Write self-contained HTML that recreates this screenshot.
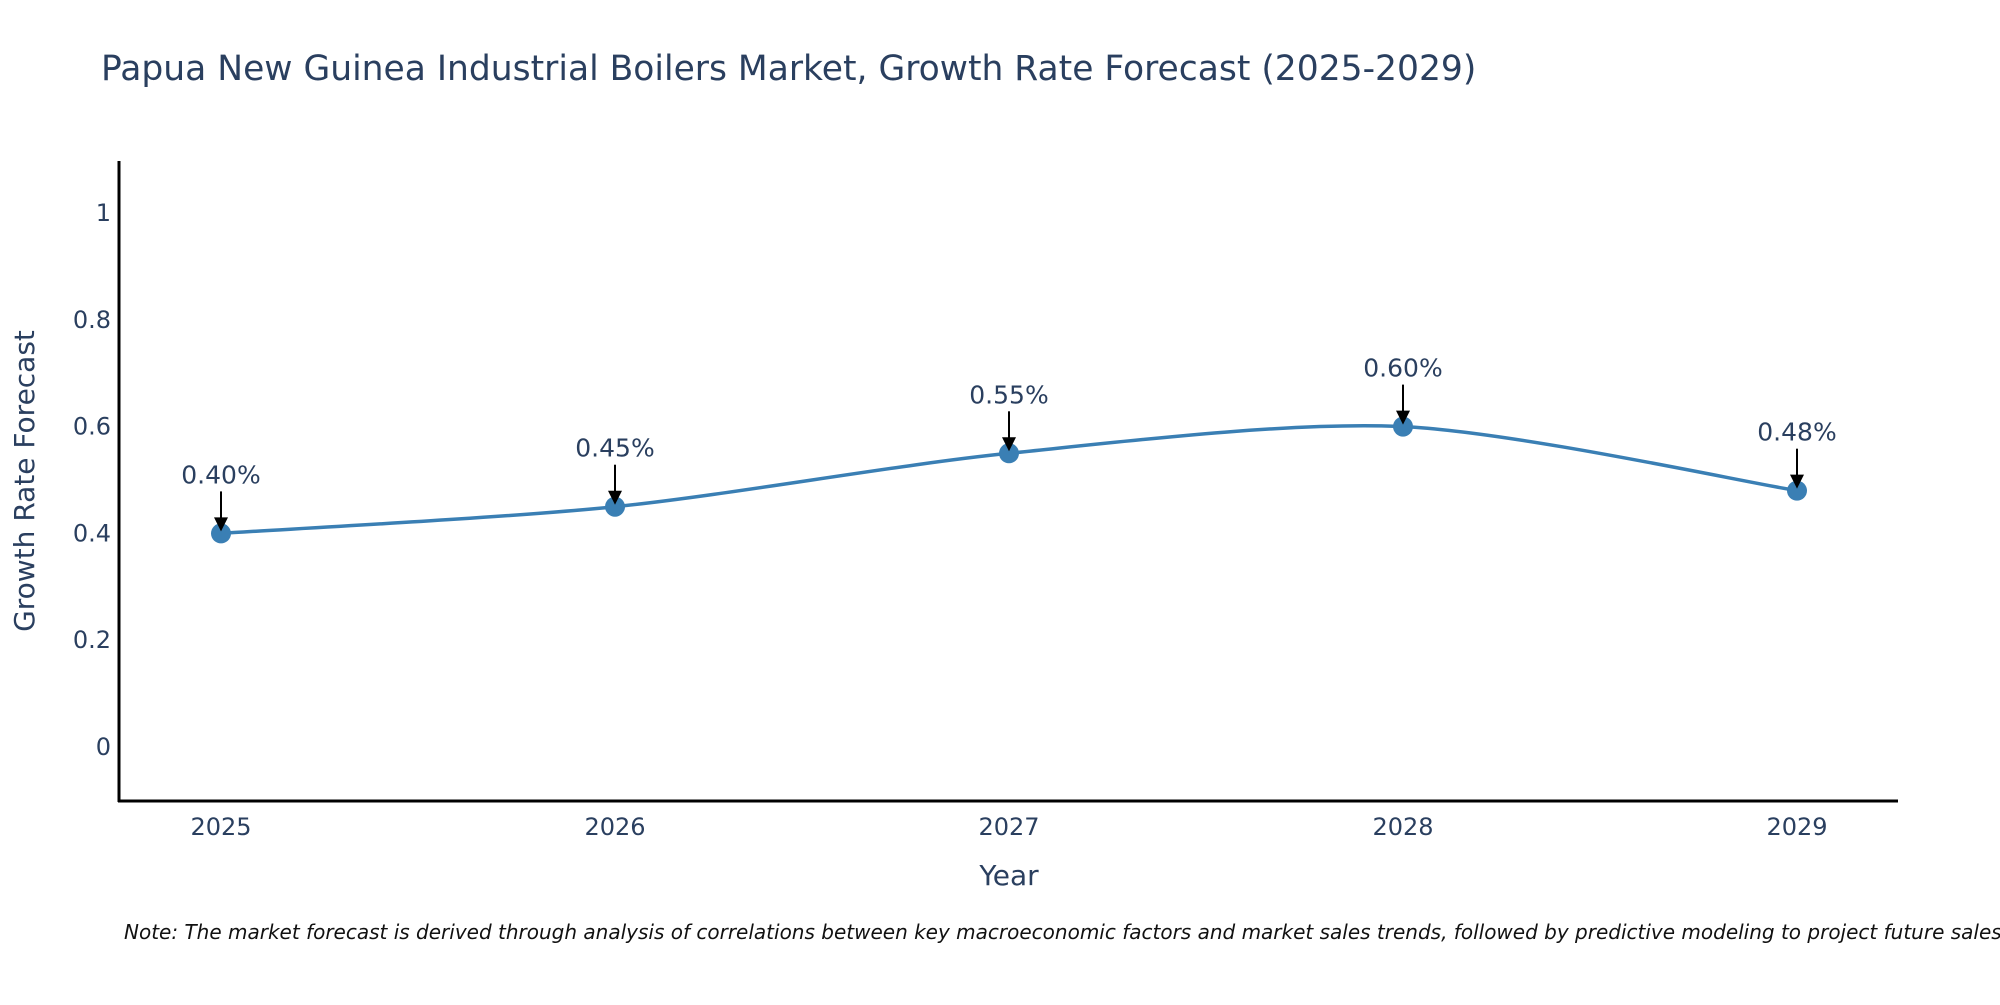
<!DOCTYPE html>
<html><head><meta charset="utf-8"><style>
body{margin:0;background:#fff}
svg text{font-family:"DejaVu Sans","Liberation Sans",sans-serif;fill:#2a3f5f}
</style></head><body>
<svg id="chart" width="2000" height="1000" xmlns="http://www.w3.org/2000/svg">
<text x="101" y="80" font-size="34.5">Papua New Guinea Industrial Boilers Market, Growth Rate Forecast (2025-2029)</text>
<g id="yticks"></g>
<g id="xticks"></g>
<line x1="119" y1="161" x2="119" y2="802" stroke="#000" stroke-width="3"/>
<line x1="118" y1="801" x2="1898" y2="801" stroke="#000" stroke-width="3"/>
<text transform="translate(34,481) rotate(-90)" text-anchor="middle" font-size="28">Growth Rate Forecast</text>
<text x="1009" y="885" text-anchor="middle" font-size="28">Year</text>
<path id="line" fill="none" stroke="#3a7fb4" stroke-width="3.5"/>
<g id="points"></g>
<text x="124" y="939" font-size="20" font-style="italic" style="fill:#111">Note: The market forecast is derived through analysis of correlations between key macroeconomic factors and market sales trends, followed by predictive modeling to project future sales.</text>
</svg>
<script>
const years = ["2025","2026","2027","2028","2029"];
const values = [0.40, 0.45, 0.55, 0.60, 0.48];
const labels = ["0.40%","0.45%","0.55%","0.60%","0.48%"];
const yTicks = [0, 0.2, 0.4, 0.6, 0.8, 1];
const NS="http://www.w3.org/2000/svg";
function xs(i){return 221 + i*394;}
function ys(v){return 747 - v*534;}
function mk(tag,attrs,parent){const e=document.createElementNS(NS,tag);for(const k in attrs)e.setAttribute(k,attrs[k]);parent.appendChild(e);return e;}
const yt=document.getElementById('yticks');
yTicks.forEach(v=>{
  const t=mk('text',{x:111,y:ys(v)+8,'text-anchor':'end','font-size':24},yt);
  
  
  t.textContent=String(v);
});
const xt=document.getElementById('xticks');
years.forEach((y,i)=>{
  const t=mk('text',{x:xs(i),y:835,'text-anchor':'middle','font-size':24},xt);
  
  
  t.textContent=y;
});
const P=values.map((v,i)=>[xs(i),ys(v)]);
let d='M'+P[0][0]+','+P[0][1];
const s=1/7;
for(let i=0;i<P.length-1;i++){
  const p0=P[Math.max(0,i-1)],p1=P[i],p2=P[i+1],p3=P[Math.min(P.length-1,i+2)];
  const c1=[p1[0]+(p2[0]-p0[0])*s,p1[1]+(p2[1]-p0[1])*s];
  const c2=[p2[0]-(p3[0]-p1[0])*s,p2[1]-(p3[1]-p1[1])*s];
  d+=' C'+c1+' '+c2+' '+p2;
}
document.getElementById('line').setAttribute('d',d);
const pg=document.getElementById('points');
P.forEach((p,i)=>{
  const c=mk('circle',{cx:p[0],cy:p[1],r:10,fill:'#3a7fb4'},pg);
  
  
  const l=mk('line',{x1:p[0],y1:p[1]-42,x2:p[0],y2:p[1]-14,stroke:'#000','stroke-width':2},pg);
  
  
  const h=mk('polygon',{points:`${p[0]-7},${p[1]-16} ${p[0]+7},${p[1]-16} ${p[0]},${p[1]-2}`,fill:'#000'},pg);
  
  
  const t=mk('text',{x:p[0],y:p[1]-50,'text-anchor':'middle','font-size':25},pg);
  
  
  t.textContent=labels[i];
});
</script>
</body></html>
